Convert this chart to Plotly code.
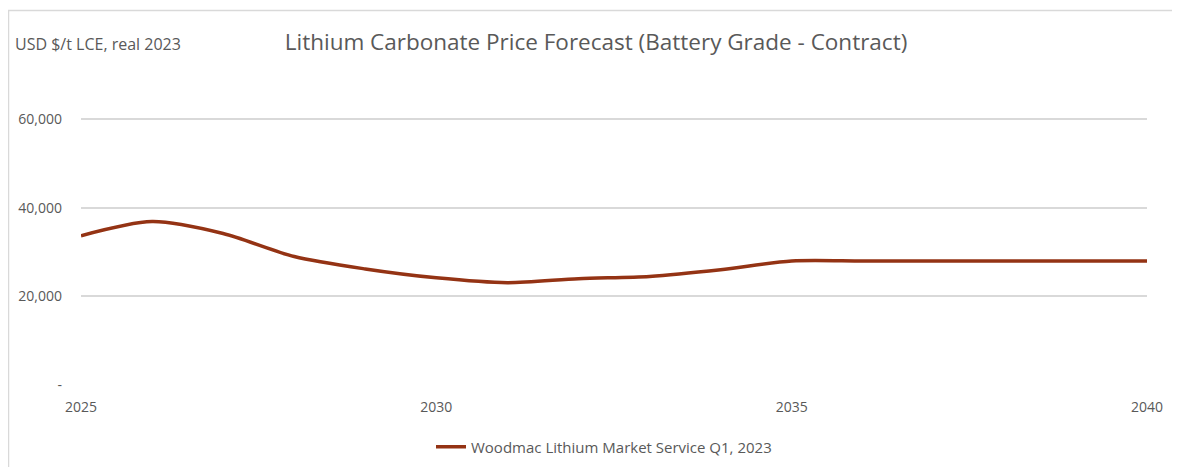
import plotly.graph_objects as go

years = list(range(2025, 2041))
prices = [33700, 36900, 34200, 29000, 26200, 24200, 23100, 24000, 24500,
          26000, 28000, 28000, 28000, 28000, 28000, 28000]
series_name = "Woodmac Lithium Market Service Q1, 2023"
title_text = "Lithium Carbonate Price Forecast (Battery Grade - Contract)"
y_unit = "USD $/t LCE, real 2023"
y_tickvals = [0, 20000, 40000, 60000]
y_ticktext = ["-", "20,000", "40,000", "60,000"]
x_tickvals = [2025, 2030, 2035, 2040]

OFF = 8  # page body margin
W, H = 1180, 467
L, R, T, B = 81 - OFF, 1180 - (1147 - OFF), 75 - OFF, 467 - (385 - OFF)
pw, ph = W - L - R, H - T - B

def px_x(x):
    return (x - OFF - L) / pw

def px_y(y):
    return (H - B - (y - OFF)) / ph

grey = "#595959"
fig = go.Figure()
fig.add_trace(go.Scatter(
    x=years, y=prices, mode="lines", name=series_name,
    line=dict(color="#943314", width=3.5, shape="spline", smoothing=0.8),
))

fig.update_layout(
    width=W, height=H,
    margin=dict(l=L, r=R, t=T, b=B, autoexpand=False),
    plot_bgcolor="white", paper_bgcolor="white",
    font=dict(family="Open Sans", size=14, color=grey),
    title=dict(text=title_text, x=(596 - OFF) / W, xanchor="center", xref="container",
               y=1 - (42 - OFF) / H, yanchor="middle", yref="container",
               font=dict(family="Open Sans", size=22.5, color=grey)),
    showlegend=True,
    legend=dict(orientation="h", x=px_x(604), xanchor="center",
                y=px_y(447), yanchor="middle",
                font=dict(family="Open Sans", size=15, color=grey),
                bgcolor="rgba(0,0,0,0)"),
    xaxis=dict(range=[2025, 2040], tickvals=x_tickvals, showgrid=False,
               zeroline=False, showline=False, ticks="",
               ticklabelstandoff=12,
               tickfont=dict(size=14, color=grey)),
    yaxis=dict(range=[0, 70000], tickvals=y_tickvals, ticktext=y_ticktext,
               showgrid=True, gridcolor="#d9d9d9", gridwidth=1.5,
               zeroline=False, showline=False, ticks="",
               ticklabelstandoff=18,
               tickfont=dict(size=14, color=grey)),
)

fig.add_annotation(text=y_unit, xref="paper", yref="paper",
                   x=px_x(13), y=px_y(44), xanchor="left", yanchor="middle",
                   showarrow=False, font=dict(size=16, color=grey))

fig.add_shape(type="rect", xref="paper", yref="paper",
              x0=px_x(8.5), x1=px_x(1200), y0=px_y(490), y1=px_y(10.5),
              line=dict(color="#d9d9d9", width=1.5), layer="below")

fig.write_html("out.html")
